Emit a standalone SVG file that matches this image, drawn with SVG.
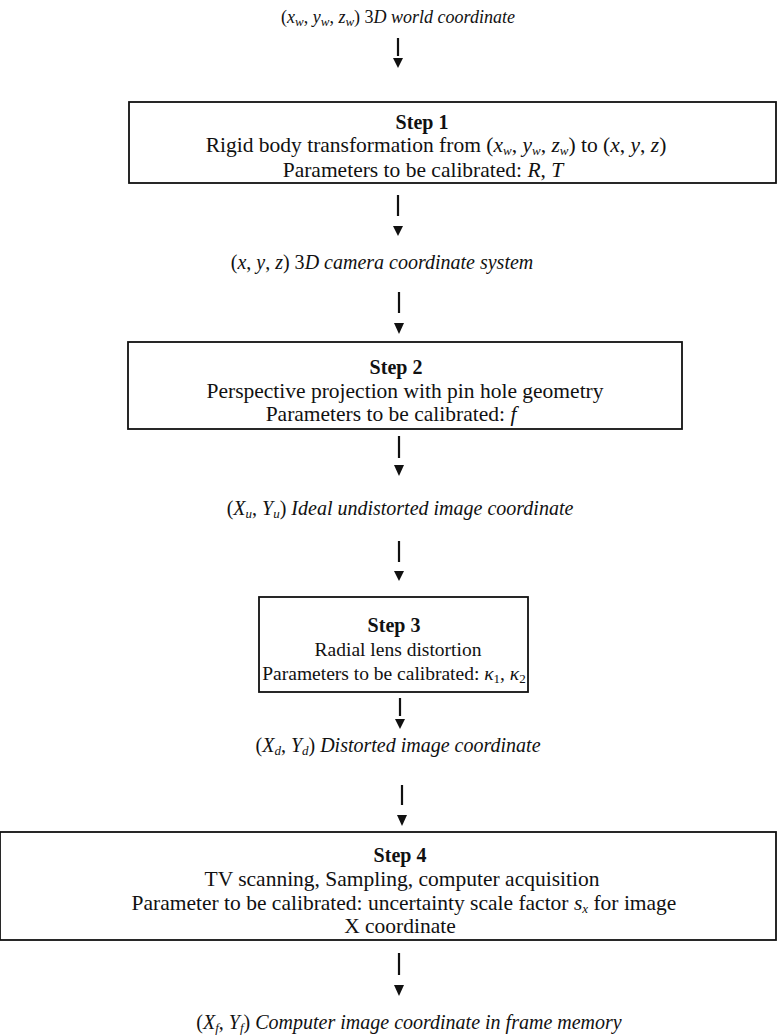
<svg xmlns="http://www.w3.org/2000/svg" width="778" height="1035" viewBox="0 0 778 1035">
<style>
text{font-family:"Liberation Serif","Times New Roman",serif;font-size:21.5px;fill:#111;text-anchor:middle}
.lab{font-size:20px}
.t{font-size:18px}
.i{font-style:italic}
.b{font-weight:bold;font-size:20px}
.s{font-size:13px}
.s3{font-size:19.5px}
.box{fill:none;stroke:#111;stroke-width:1.8}
.ln{stroke:#111;stroke-width:2.2}
.hd{fill:#111}
</style>
<rect width="778" height="1035" fill="#fff"/>
<g id="label-world">
<text class="t" x="398" y="23"><tspan>(</tspan><tspan class="i">x</tspan><tspan class="i s" dy="3">w</tspan><tspan dy="-3">, </tspan><tspan class="i">y</tspan><tspan class="i s" dy="3">w</tspan><tspan dy="-3">, </tspan><tspan class="i">z</tspan><tspan class="i s" dy="3">w</tspan><tspan dy="-3">)  3</tspan><tspan class="i">D world coordinate</tspan></text>
</g>
<g id="step1">
<rect class="box" x="129" y="102" width="647" height="81"/>
<text class="b" x="422" y="129">Step 1</text>
<text x="436" y="152">Rigid body transformation from (<tspan class="i">x</tspan><tspan class="i s" dy="3">w</tspan><tspan dy="-3">, </tspan><tspan class="i">y</tspan><tspan class="i s" dy="3">w</tspan><tspan dy="-3">, </tspan><tspan class="i">z</tspan><tspan class="i s" dy="3">w</tspan><tspan dy="-3">) to (</tspan><tspan class="i">x</tspan>, <tspan class="i">y</tspan>, <tspan class="i">z</tspan>)</text>
<text x="423" y="177">Parameters to be calibrated: <tspan class="i">R</tspan>, <tspan class="i">T</tspan></text>
</g>
<g id="label-camera">
<text class="lab" x="382" y="269">(<tspan class="i">x</tspan>, <tspan class="i">y</tspan>, <tspan class="i">z</tspan>)  3<tspan class="i">D camera coordinate system</tspan></text>
</g>
<g id="step2">
<rect class="box" x="128" y="342" width="554" height="87"/>
<text class="b" x="396" y="374">Step 2</text>
<text x="405" y="398">Perspective projection with pin hole geometry</text>
<text x="391" y="421">Parameters to be calibrated: <tspan class="i">f</tspan></text>
</g>
<g id="label-undistorted">
<text class="lab" x="400" y="515">(<tspan class="i">X</tspan><tspan class="i s" dy="3">u</tspan><tspan dy="-3">, </tspan><tspan class="i">Y</tspan><tspan class="i s" dy="3">u</tspan><tspan dy="-3">)  </tspan><tspan class="i">Ideal undistorted image coordinate</tspan></text>
</g>
<g id="step3">
<rect class="box" x="259" y="597" width="269" height="95"/>
<text class="b" x="394" y="632">Step 3</text>
<text class="s3" x="398" y="656">Radial lens distortion</text>
<text class="s3" x="394" y="680">Parameters to be calibrated: <tspan class="i">κ</tspan><tspan class="s" dy="3">1</tspan><tspan dy="-3">, </tspan><tspan class="i">κ</tspan><tspan class="s" dy="3">2</tspan></text>
</g>
<g id="label-distorted">
<text class="lab" x="398" y="752">(<tspan class="i">X</tspan><tspan class="i s" dy="3">d</tspan><tspan dy="-3">, </tspan><tspan class="i">Y</tspan><tspan class="i s" dy="3">d</tspan><tspan dy="-3">)  </tspan><tspan class="i">Distorted image coordinate</tspan></text>
</g>
<g id="step4">
<rect class="box" x="0" y="832" width="776" height="108"/>
<text class="b" x="400" y="862">Step 4</text>
<text x="402" y="886">TV scanning, Sampling, computer acquisition</text>
<text x="404" y="910">Parameter to be calibrated: uncertainty scale factor <tspan class="i">s</tspan><tspan class="i s" dy="3">x</tspan><tspan dy="-3"> for image</tspan></text>
<text x="400" y="933">X coordinate</text>
</g>
<g id="label-frame">
<text class="lab" x="409" y="1029">(<tspan class="i">X</tspan><tspan class="i s" dy="3">f</tspan><tspan dy="-3">, </tspan><tspan class="i">Y</tspan><tspan class="i s" dy="3">f</tspan><tspan dy="-3">)  </tspan><tspan class="i">Computer image coordinate in frame memory</tspan></text>
</g>
<g id="connectors">
<line class="ln" x1="398" y1="38" x2="398" y2="56"/><path class="hd" d="M393,58 L403,58 L398,68 Z"/>
<line class="ln" x1="398" y1="195" x2="398" y2="216"/><path class="hd" d="M393,226 L403,226 L398,236 Z"/>
<line class="ln" x1="399" y1="292" x2="399" y2="313"/><path class="hd" d="M394,323 L404,323 L399,334 Z"/>
<line class="ln" x1="399" y1="436" x2="399" y2="458"/><path class="hd" d="M394,465 L404,465 L399,476 Z"/>
<line class="ln" x1="399" y1="541" x2="399" y2="562"/><path class="hd" d="M394,571 L404,571 L399,581 Z"/>
<line class="ln" x1="400" y1="698" x2="400" y2="716"/><path class="hd" d="M395,719 L405,719 L400,729 Z"/>
<line class="ln" x1="402" y1="785" x2="402" y2="805"/><path class="hd" d="M397,815 L407,815 L402,826 Z"/>
<line class="ln" x1="399" y1="953" x2="399" y2="975"/><path class="hd" d="M394,985 L404,985 L399,996 Z"/>
</g>
</svg>
